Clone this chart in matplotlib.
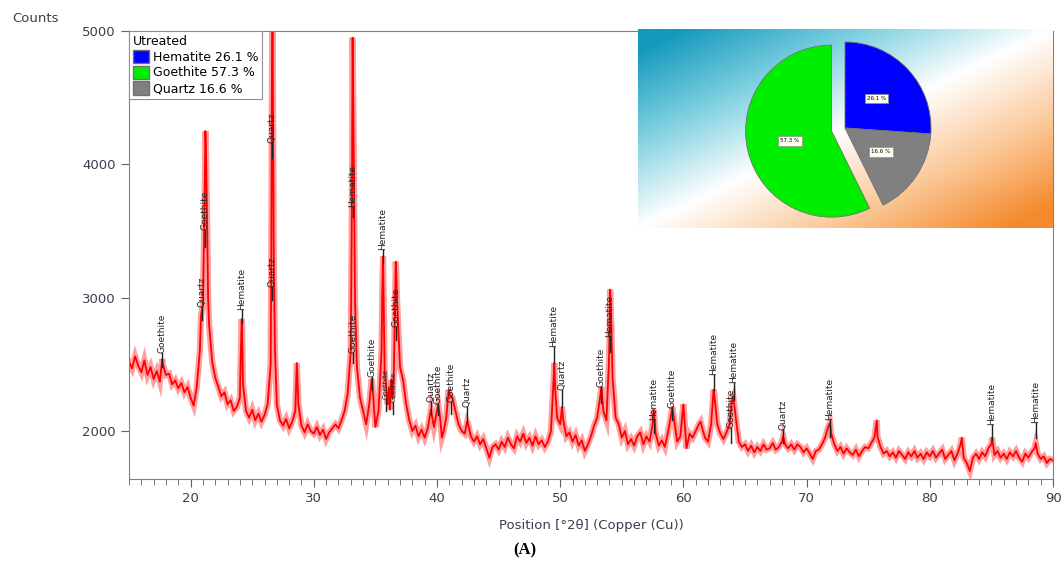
import numpy as np
import matplotlib
matplotlib.use('Agg')
import matplotlib.pyplot as plt
from matplotlib.patches import Patch
from matplotlib.ticker import MultipleLocator
from matplotlib.colors import LinearSegmentedColormap

# XRD pattern: counts every 0.25 deg from 15 to 90
grid_x = np.arange(15, 90.001, 0.25)
grid_counts = [
    2520, 2470, 2560, 2490,  # 15
    2440, 2530, 2420, 2480,  # 16
    2390, 2450, 2370, 2500,  # 17
    2420, 2430, 2350, 2380,  # 18
    2320, 2360, 2290, 2330,  # 19
    2250, 2190, 2330, 2600,  # 20
    2950, 4100, 2800, 2520,  # 21
    2400, 2330, 2260, 2290,  # 22
    2200, 2230, 2150, 2180,  # 23
    2250, 2350, 2150, 2100,  # 24
    2160, 2080, 2130, 2070,  # 25
    2120, 2200, 2500, 3300,  # 26
    2200, 2080, 2040, 2090,  # 27
    2020, 2070, 2150, 2200,  # 28
    2040, 1990, 2050, 2000,  # 29
    1980, 2030, 1970, 2010,  # 30
    1940, 1990, 2020, 2050,  # 31
    2020, 2080, 2150, 2280,  # 32
    2600, 4000, 2480, 2250,  # 33
    2150, 2050, 2200, 2350,  # 34
    2030, 2150, 2600, 2450,  # 35
    2200, 2300, 2450, 3000,  # 36
    2480, 2380, 2200, 2080,  # 37
    2000, 2040, 1960, 2010,  # 38
    1950, 2020, 2160, 2030,  # 39
    2150, 2100, 1980, 2100,  # 40
    2280, 2250, 2150, 2050,  # 41
    2000, 1980, 2060, 1960,  # 42
    1920, 1960, 1900, 1940,  # 43
    1870, 1800, 1880, 1900,  # 44
    1860, 1920, 1880, 1950,  # 45
    1900, 1870, 1960, 1920,  # 46
    1980, 1910, 1950, 1890,  # 47
    1960, 1900, 1930, 1880,  # 48
    1920, 2000, 2450, 2100,  # 49
    2050, 2080, 1960, 1990,  # 50
    1920, 1970, 1890, 1930,  # 51
    1850, 1900, 1960, 2040,  # 52
    2100, 2260, 2150, 2080,  # 53
    2700, 2400, 2100, 2050,  # 54
    1950, 2000, 1900, 1940,  # 55
    1890, 1960, 1990, 1900,  # 56
    1960, 1920, 2050, 1980,  # 57
    1890, 1930, 1880, 1990,  # 58
    2120, 2080, 1920, 1960,  # 59
    2200, 1870, 1980, 1950,  # 60
    2000, 2050, 2030, 1950,  # 61
    1920, 2050, 2280, 2050,  # 62
    1980, 1940, 1990, 2050,  # 63
    2250, 2100, 1920, 1880,  # 64
    1900, 1850, 1890, 1840,  # 65
    1880, 1850, 1900, 1860,  # 66
    1870, 1910, 1860, 1880,  # 67
    1920, 1900, 1870, 1900,  # 68
    1860, 1900, 1880, 1840,  # 69
    1870, 1830, 1790, 1850,  # 70
    1860, 1900, 1950, 2030,  # 71
    1980, 1900, 1850, 1880,  # 72
    1830, 1870, 1840, 1820,  # 73
    1860, 1810, 1850, 1880,  # 74
    1870, 1910, 1950, 1960,  # 75
    1880, 1830, 1850, 1810,  # 76
    1840, 1800, 1850, 1820,  # 77
    1790, 1840, 1810, 1850,  # 78
    1800, 1830, 1790, 1840,  # 79
    1810, 1850, 1800, 1830,  # 80
    1860, 1790, 1820, 1850,  # 81
    1780, 1830, 1900, 1800,  # 82
    1760, 1700, 1800, 1830,  # 83
    1790, 1840, 1810, 1870,  # 84
    1900, 1820, 1850, 1800,  # 85
    1830, 1790, 1840, 1810,  # 86
    1850, 1800, 1770, 1830,  # 87
    1800, 1840, 1870, 1830,  # 88
    1790, 1810, 1760, 1790,  # 89
    1780,                    # 90
]

# extra points on the sharp peaks
peak_x = [17.7, 20.85, 21.12, 21.2, 21.35, 21.42, 24.08, 24.15, 24.2,
          26.55, 26.6, 26.65, 26.7, 26.85, 28.62, 33.1, 33.15, 33.35,
          34.7, 35.55, 35.62, 35.7, 36.1, 36.18, 36.3, 36.4, 36.58,
          36.65, 36.7, 40.1, 40.4, 40.95, 42.45, 49.45, 49.52, 49.6,
          50.15, 53.35, 53.95, 54.05, 54.12, 57.6, 59.1, 61.4, 62.45,
          63.9, 64.05, 68.1, 71.9, 75.7, 82.6, 85.05, 88.6]
peak_counts = [2540, 2870, 3600, 4250, 3500, 3000, 2600, 2840, 2650,
               3300, 4600, 5200, 4200, 2600, 2510, 3800, 4950, 2950,
               2390, 3000, 3310, 2800, 2330, 2160, 2380, 2250, 2900,
               3270, 3180, 2200, 1950, 2310, 2070, 2350, 2510, 2300,
               2180, 2330, 2500, 3060, 2900, 2160, 2180, 2070, 2310,
               2200, 2260, 1960, 2060, 2080, 1950, 1950, 1910]

# phase markers: position, phase, bottom and top of the marker stick
mark_pos = [17.7, 20.9, 21.2, 24.15, 26.6, 26.6, 33.15, 33.2, 34.7, 35.6,
            35.85, 36.45, 36.65, 39.5, 40.1, 41.1, 42.45, 49.5, 50.15, 53.35,
            54.05, 57.6, 59.1, 62.45, 63.85, 64.1, 68.1, 71.9, 85.05, 88.6]
mark_name = ['Goethite', 'Quartz', 'Goethite', 'Hematite', 'Quartz', 'Quartz',
             'Hematite', 'Goethite', 'Goethite', 'Hematite', 'Goethite',
             'Goethite', 'Goethite', 'Quartz', 'Goethite', 'Goethite', 'Quartz',
             'Hematite', 'Quartz', 'Goethite', 'Hematite', 'Hematite',
             'Goethite', 'Hematite', 'Goethite', 'Hematite', 'Quartz',
             'Hematite', 'Hematite', 'Hematite']
mark_low = [2480, 2830, 3380, 2810, 4045, 2980, 3605, 2510, 2310, 3260,
            2150, 2130, 2680, 2130, 2120, 2130, 2070, 2520, 2180, 2210,
            2590, 1985, 2080, 2310, 1910, 2230, 1910, 1955, 1930, 1950]
mark_high = [2585, 2930, 3510, 2910, 4160, 3080, 3680, 2585, 2405, 3360,
             2240, 2220, 2780, 2215, 2200, 2215, 2180, 2630, 2310, 2330,
             2705, 2080, 2170, 2420, 2020, 2360, 2010, 2080, 2045, 2060]
mark_size = [6.5] * 10 + [5, 5] + [6.5] * 18

# phase composition (pie inset)
phases = ['Hematite', 'Quartz', 'Goethite']
phase_pct = [26.1, 16.6, 57.3]
phase_colors = ['#0000ff', '#808080', '#00ee00']
legend_names = ['Hematite', 'Goethite', 'Quartz']
legend_pct = [26.1, 57.3, 16.6]
legend_colors = ['#0000ff', '#00ee00', '#808080']

W, H = 1062, 563
fig = plt.figure(figsize=(W / 100, H / 100), dpi=100)
ax = fig.add_axes([129 / W, 1 - 479 / H, (1053 - 129) / W, (479 - 31) / H])

x = np.concatenate([grid_x, peak_x])
y = np.concatenate([grid_counts, peak_counts])
order = np.argsort(x, kind='stable')
x, y = x[order], y[order]

# wide translucent stroke stands in for the noisy band of the raw scan
ax.plot(x, y, color='#ff1010', lw=4.5, alpha=0.4, solid_joinstyle='miter')
ax.plot(x, y, color='#ff0000', lw=1.3)

for px, name, lo, hi, fs in zip(mark_pos, mark_name, mark_low, mark_high,
                                mark_size):
    ax.plot([px, px], [lo, hi], color='#222222', lw=1)
    ax.text(px, hi, name, rotation=90, ha='center', va='bottom',
            fontsize=fs, color='#222222')

ax.set_xlim(15, 90)
ax.set_ylim(1640, 5000)
ax.set_xticks(range(20, 91, 10))
ax.xaxis.set_minor_locator(MultipleLocator(1))
ax.set_yticks([2000, 3000, 4000, 5000])
ax.tick_params(which='major', direction='out', length=6, color='#606060',
               labelsize=9.5, labelcolor='#3c3c50')
ax.tick_params(which='minor', direction='out', length=4, color='#606060')
for s in ax.spines.values():
    s.set_color('#808080')
ax.set_xlabel('Position [°2θ] (Copper (Cu))', fontsize=9.5, color='#3c3c50',
              labelpad=10)
fig.text(12 / W, 1 - 18 / H, 'Counts', fontsize=9.5, color='#3c3c50',
         va='center')

handles = [Patch(facecolor=c, edgecolor='#707070', label=f'{n} {p} %')
           for n, p, c in zip(legend_names, legend_pct, legend_colors)]
leg = ax.legend(handles=handles, title='Utreated', loc='upper left',
                bbox_to_anchor=(0, 1), borderaxespad=0, fontsize=9,
                title_fontsize=9, alignment='left', fancybox=False,
                edgecolor='#909090', framealpha=1, handlelength=1.3,
                handleheight=1.3, handletextpad=0.3, labelspacing=0.15,
                borderpad=0.3)
leg.get_frame().set_linewidth(0.8)

# inset with gradient background
bg = fig.add_axes([638 / W, 1 - 228 / H, 415 / W, 199 / H])
u, w = np.meshgrid(np.linspace(0, 1, 400), np.linspace(0, 1, 200))
cmap = LinearSegmentedColormap.from_list(
    'tw', ['#1598bd', '#7fd0e0', '#ffffff', '#fbc99a', '#f58a2c'])
bg.imshow((u + w) / 2, cmap=cmap, extent=[0, 1, 0, 1], aspect='auto',
          origin='upper', vmin=0.05, vmax=0.95)
bg.axis('off')

r = 86
pie_ax = fig.add_axes([(845 - 1.25 * r) / W, 1 - (128 + 1.25 * r) / H,
                       2.5 * r / W, 2.5 * r / H])
wedges, texts, autotexts = pie_ax.pie(
    phase_pct, colors=phase_colors, startangle=90, counterclock=False,
    explode=[0, 0, 0.16], autopct='%.1f %%', pctdistance=0.5,
    wedgeprops=dict(edgecolor='#707070', linewidth=0.6))
for t in autotexts:
    t.set_fontsize(4)
    t.set_bbox(dict(boxstyle='square,pad=0.4', fc='#fffdf0', ec='#909090',
                    lw=0.5))
pie_ax.set_xlim(-1.25, 1.25)
pie_ax.set_ylim(-1.25, 1.25)
pie_ax.axis('off')

fig.text(525 / W, 1 - 550 / H, '(A)', fontsize=12, fontweight='bold',
         family='Liberation Serif', ha='center', va='center')

fig.savefig('out.png', dpi=100)
